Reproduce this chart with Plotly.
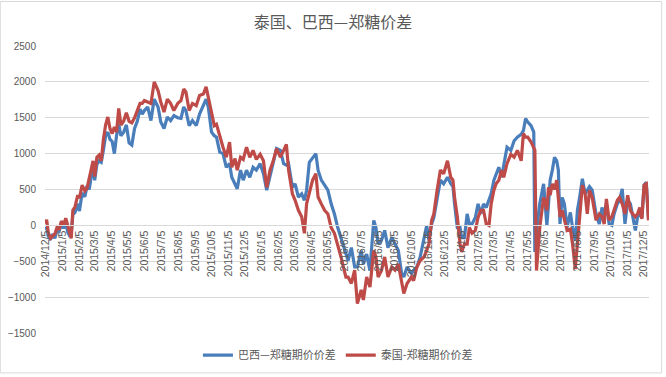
import pandas as pd
import plotly.graph_objects as go

title_text = "泰国、巴西—郑糖价差"
series_names = ["巴西—郑糖期价价差", "泰国-郑糖期价价差"]

dates = [
    "2014-12-05", "2014-12-07", "2014-12-10", "2014-12-14", "2014-12-18", "2014-12-22", "2014-12-26", "2014-12-30",
    "2015-01-03", "2015-01-07", "2015-01-11", "2015-01-15", "2015-01-19", "2015-01-21", "2015-01-24", "2015-01-28",
    "2015-02-02", "2015-02-05", "2015-02-10", "2015-02-15", "2015-02-19", "2015-02-23", "2015-02-27",
    "2015-03-02", "2015-03-05", "2015-03-09", "2015-03-13", "2015-03-17", "2015-03-21", "2015-03-25", "2015-03-29",
    "2015-04-02", "2015-04-06", "2015-04-10", "2015-04-14", "2015-04-18", "2015-04-22", "2015-04-27",
    "2015-05-02", "2015-05-07", "2015-05-12", "2015-05-17", "2015-05-22", "2015-05-27", "2015-05-31",
    "2015-06-04", "2015-06-10", "2015-06-16", "2015-06-22", "2015-06-29",
    "2015-07-04", "2015-07-10", "2015-07-16", "2015-07-22", "2015-07-28",
    "2015-08-04", "2015-08-10", "2015-08-15", "2015-08-19", "2015-08-25", "2015-08-31",
    "2015-09-07", "2015-09-13", "2015-09-20", "2015-09-25", "2015-09-29",
    "2015-10-05", "2015-10-10", "2015-10-14", "2015-10-20", "2015-10-26",
    "2015-11-01", "2015-11-07", "2015-11-11", "2015-11-17", "2015-11-21", "2015-11-27",
    "2015-12-02", "2015-12-08", "2015-12-14", "2015-12-20", "2015-12-26",
    "2016-01-02", "2016-01-08", "2016-01-14", "2016-01-20", "2016-01-26",
    "2016-02-01", "2016-02-08", "2016-02-14", "2016-02-19", "2016-02-23",
    "2016-03-01", "2016-03-06", "2016-03-12", "2016-03-18", "2016-03-23", "2016-03-27",
    "2016-04-01", "2016-04-07", "2016-04-13", "2016-04-17", "2016-04-23", "2016-04-29",
    "2016-05-05", "2016-05-11", "2016-05-17", "2016-05-23", "2016-05-29",
    "2016-06-03", "2016-06-07", "2016-06-11", "2016-06-17", "2016-06-23", "2016-06-28",
    "2016-07-05", "2016-07-09", "2016-07-15", "2016-07-21", "2016-07-28",
    "2016-08-01", "2016-08-05", "2016-08-11", "2016-08-17", "2016-08-23", "2016-08-30",
    "2016-09-05", "2016-09-11", "2016-09-17", "2016-09-21", "2016-09-27",
    "2016-10-05", "2016-10-09", "2016-10-15", "2016-10-21", "2016-10-28",
    "2016-11-02", "2016-11-06", "2016-11-11", "2016-11-15", "2016-11-21", "2016-11-27",
    "2016-12-03", "2016-12-10", "2016-12-16", "2016-12-20", "2016-12-23", "2016-12-28",
    "2017-01-02", "2017-01-05", "2017-01-10", "2017-01-15", "2017-01-19", "2017-01-24", "2017-01-30",
    "2017-02-04", "2017-02-09", "2017-02-14", "2017-02-19", "2017-02-24", "2017-02-28",
    "2017-03-05", "2017-03-09", "2017-03-14", "2017-03-19", "2017-03-23", "2017-03-29",
    "2017-04-05", "2017-04-11", "2017-04-17", "2017-04-24", "2017-04-28",
    "2017-05-02", "2017-05-06", "2017-05-12", "2017-05-17", "2017-05-19", "2017-05-22", "2017-05-28",
    "2017-06-04", "2017-06-10", "2017-06-13", "2017-06-16", "2017-06-20", "2017-06-24", "2017-06-28",
    "2017-07-01", "2017-07-04", "2017-07-08", "2017-07-12", "2017-07-17", "2017-07-23", "2017-07-27",
    "2017-08-01", "2017-08-05", "2017-08-09", "2017-08-14", "2017-08-19", "2017-08-23", "2017-08-27",
    "2017-09-01", "2017-09-08", "2017-09-14", "2017-09-19", "2017-09-23", "2017-09-27",
    "2017-10-02", "2017-10-07", "2017-10-11", "2017-10-17", "2017-10-21", "2017-10-26", "2017-10-31",
    "2017-11-05", "2017-11-10", "2017-11-14", "2017-11-19", "2017-11-23", "2017-11-27",
    "2017-12-01", "2017-12-05", "2017-12-09", "2017-12-13",
]

brazil = [
    -60, -30, -150, -200, -120, -180, -60, -80,
    30, -40, 20, -100, -160, -120, 150, 180,
    300, 200, 450, 400, 550, 500, 700,
    800, 630, 850, 900, 880, 1050, 1250, 1300,
    1200, 1170, 1000, 1250, 1410, 1250, 1300,
    1400, 1150, 1120, 1350, 1450, 1620, 1550,
    1600, 1650, 1460, 1760, 1650,
    1440, 1350, 1510, 1460, 1530,
    1500, 1490, 1650, 1600, 1390, 1460,
    1390, 1550, 1690, 1760, 1650,
    1300, 1250, 1230, 1020, 1000,
    810, 860, 670, 580, 510, 770,
    630, 770, 670, 810, 770,
    860, 720, 490, 670, 860,
    1070, 1045, 860, 840, 860,
    530, 580, 395, 440, 350, 490,
    880, 950, 1000, 770, 630, 560,
    490, 300, 160, -30, -170,
    -310, -400, -490, -310, -580, -580,
    -350, -540, -400, -630, 70,
    -30, -260, -210, -70, -310, -170,
    -260, -350, -670, -720, -580,
    -670, -625, -580, -440, -170,
    0, -210, 20, 110, 400, 630,
    580, 670, 580, 540, 300, -30,
    -30, -170, -170, 160, 20, 20, 110,
    300, 160, 300, 250, 350, 440,
    630, 720, 810, 670, 860, 1090,
    1045, 1180, 1230, 1270, 1320,
    1490, 1440, 1390, 1300, -370, -70, 300,
    580, 0, 300, 630, 770, 950, 900,
    770, 20, 390, 300, -30, 180, -30,
    -210, 210, 390, 650, 440, 490, 540,
    490, 160, 20, 250, 110, 300,
    20, 0, 160, 300, 350, 510, 20,
    350, 300, 110, -70, 110, 160,
    110, 560, 600, 110,
]

thailand = [
    20, 80, -100, -180, -150, -120, -30, -60,
    60, 0, 100, -20, -120, -180, 210, 260,
    420, 380, 560, 480, 520, 650, 780,
    900, 680, 950, 980, 900, 1200, 1400, 1510,
    1350, 1280, 1370, 1300, 1630, 1400, 1450,
    1570, 1450, 1430, 1500, 1600, 1700, 1700,
    1740, 1720, 1700, 2000, 1880,
    1720, 1580, 1760, 1700, 1600,
    1700, 1740, 1900, 1860, 1600, 1700,
    1670, 1810, 1830, 1930, 1790,
    1600, 1390, 1410, 1230, 1090,
    950, 1160, 810, 930, 770, 950,
    920, 1090, 950, 1045, 920,
    990, 900, 530, 770, 900,
    1070, 950, 1045, 1130, 770,
    440, 350, 210, 120, -110, 300,
    440, 630, 720, 395, 300, 210,
    160, -30, -110, -260, -440,
    -600, -720, -720, -810, -625, -1090,
    -900, -1040, -720, -860, -350,
    -440, -720, -630, -440, -720, -580,
    -625, -540, -810, -950, -810,
    -720, -770, -580, -490, -440,
    -350, -260, 70, 160, 490, 770,
    720, 900, 670, 630, 390, 120,
    -260, -370, -260, -260, -30, -110, -70,
    110, 210, 210, 20, 0, 300,
    490, 580, 630, 770, 670, 860,
    990, 950, 1045, 900, 1280,
    1230, 1230, 1160, 1090, 1050, -630, -30,
    390, 210, 530, 420, 580, 500, 630,
    390, 120, 210, 70, -70, -50, -260,
    -610, -260, 20, 560, 440, 160, 490,
    390, 70, 160, 120, 20, 370,
    70, 120, 210, 350, 390, 300, 160,
    420, 210, 160, 120, 160, 250,
    90, 560, 580, 70,
]

tick_labels = [
    "2014/12/5",
    "2015/1/5", "2015/2/5", "2015/3/5", "2015/4/5", "2015/5/5", "2015/6/5",
    "2015/7/5", "2015/8/5", "2015/9/5", "2015/10/5", "2015/11/5", "2015/12/5",
    "2016/1/5", "2016/2/5", "2016/3/5", "2016/4/5", "2016/5/5", "2016/6/5",
    "2016/7/5", "2016/8/5", "2016/9/5", "2016/10/5", "2016/11/5", "2016/12/5",
    "2017/1/5", "2017/2/5", "2017/3/5", "2017/4/5", "2017/5/5", "2017/6/5",
    "2017/7/5", "2017/8/5", "2017/9/5", "2017/10/5", "2017/11/5", "2017/12/5",
]
y_ticks = [-1500, -1000, -500, 0, 500, 1000, 1500, 2000, 2500]

tick_vals = pd.to_datetime(tick_labels, format="%Y/%m/%d")
x = pd.to_datetime(dates)

FONT = "Liberation Sans, Noto Sans CJK SC, sans-serif"
GREY = "#595959"
GRID = "#D9D9D9"

fig = go.Figure()
fig.add_trace(go.Scatter(x=x, y=brazil, mode="lines", name=series_names[0],
                         line=dict(color="#4A7EBB", width=3.2)))
fig.add_trace(go.Scatter(x=x, y=thailand, mode="lines", name=series_names[1],
                         line=dict(color="#BE4B48", width=3.2)))

fig.update_layout(
    width=666, height=377,
    margin=dict(l=45, r=17, t=46, b=44, autoexpand=False),
    paper_bgcolor="white", plot_bgcolor="white",
    title=dict(text=title_text, x=0.5, xanchor="center", y=0.94, yanchor="middle",
               font=dict(family="Noto Sans CJK SC", size=16, color=GREY)),
    font=dict(family=FONT, color=GREY),
    legend=dict(orientation="h", x=0.485, xanchor="center", y=-0.077, yanchor="middle",
                font=dict(family="Noto Sans CJK SC", size=11, color=GREY),
                itemwidth=30, tracegroupgap=0),
    showlegend=True,
    xaxis=dict(
        type="date",
        range=["2014-12-04", "2017-12-14"],
        tickmode="array", tickvals=tick_vals, ticktext=tick_labels,
        tickangle=-90, tickfont=dict(size=10.5, color=GREY, family=FONT),
        showgrid=False, showline=True, linecolor=GRID, linewidth=1,
        anchor="free", position=0.375, ticks="", zeroline=False,
        automargin=False,
    ),
    yaxis=dict(
        range=[-1500, 2500], tickmode="array", tickvals=y_ticks,
        tickfont=dict(size=10, color=GREY, family=FONT),
        showgrid=True, gridcolor=GRID, gridwidth=1,
        zeroline=False, showline=False, ticklabelstandoff=8,
        automargin=False,
    ),
    shapes=[dict(type="rect", xref="paper", yref="paper",
                 x0=-0.074, x1=1.021, y0=-0.139, y1=1.155,
                 line=dict(color=GRID, width=1), layer="below")],
)

fig.write_html("out.html",
               config={"displayModeBar": False},
               post_script="document.body.style.margin='0';document.body.style.overflow='hidden';")
